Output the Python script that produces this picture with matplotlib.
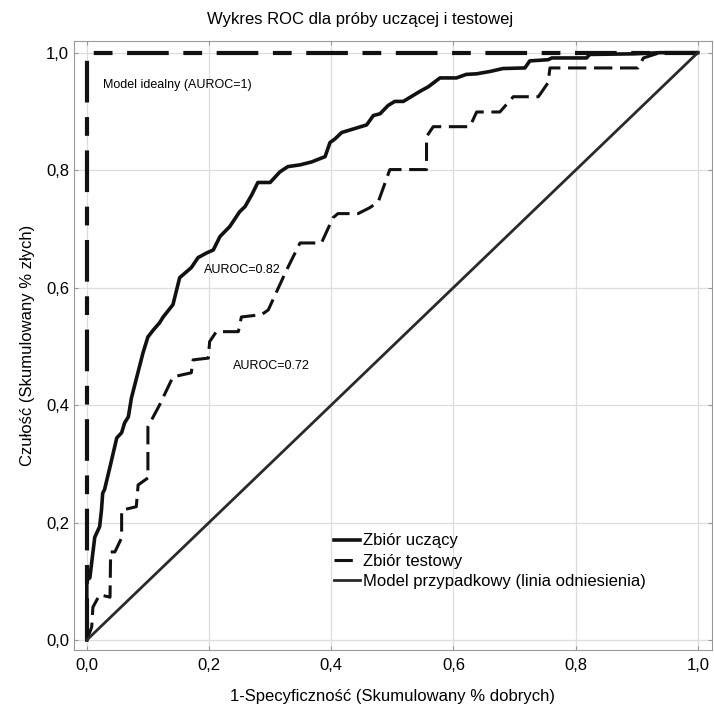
import matplotlib
matplotlib.use("Agg")
import matplotlib.pyplot as plt
from matplotlib.ticker import FuncFormatter

plt.rcParams['font.family'] = ['Liberation Sans', 'DejaVu Sans']

# ROC points
train_fpr = [0.0, 0.0, 0.005, 0.013, 0.021, 0.024, 0.026, 0.029, 0.038, 0.049, 0.057, 0.062,
             0.068, 0.073, 0.092, 0.100, 0.109, 0.119, 0.125, 0.141, 0.147, 0.152, 0.171,
             0.182, 0.196, 0.207, 0.218, 0.234, 0.250, 0.259, 0.270, 0.280, 0.300, 0.316,
             0.329, 0.349, 0.368, 0.390, 0.398, 0.406, 0.417, 0.458, 0.469, 0.480, 0.493,
             0.504, 0.518, 0.545, 0.559, 0.578, 0.605, 0.621, 0.638, 0.660, 0.681, 0.717,
             0.725, 0.755, 0.761, 0.818, 0.823, 0.894, 0.938, 1.0]
train_tpr = [0.0, 0.102, 0.106, 0.175, 0.193, 0.221, 0.250, 0.256, 0.295, 0.344, 0.353, 0.370,
             0.380, 0.412, 0.489, 0.516, 0.528, 0.540, 0.550, 0.571, 0.596, 0.617, 0.634,
             0.651, 0.659, 0.664, 0.687, 0.704, 0.729, 0.738, 0.758, 0.779, 0.779, 0.797,
             0.806, 0.809, 0.814, 0.823, 0.847, 0.853, 0.864, 0.877, 0.893, 0.896, 0.910,
             0.917, 0.917, 0.934, 0.942, 0.957, 0.957, 0.963, 0.964, 0.968, 0.973, 0.974,
             0.986, 0.988, 0.991, 0.991, 0.997, 0.998, 1.0, 1.0]

test_fpr = [0.0, 0.008, 0.010, 0.021, 0.038, 0.039, 0.046, 0.057, 0.057, 0.081, 0.084, 0.100,
            0.100, 0.119, 0.141, 0.171, 0.174, 0.199, 0.201, 0.212, 0.248, 0.253, 0.286,
            0.297, 0.327, 0.349, 0.384, 0.403, 0.411, 0.444, 0.463, 0.477, 0.496, 0.556,
            0.556, 0.567, 0.627, 0.638, 0.676, 0.698, 0.739, 0.755, 0.758, 0.902, 0.911,
            0.938, 1.0]
test_tpr = [0.0, 0.022, 0.056, 0.077, 0.073, 0.150, 0.150, 0.174, 0.221, 0.227, 0.264, 0.276,
            0.363, 0.400, 0.448, 0.455, 0.477, 0.480, 0.508, 0.525, 0.525, 0.550, 0.554,
            0.562, 0.630, 0.676, 0.676, 0.719, 0.726, 0.726, 0.736, 0.746, 0.801, 0.801,
            0.857, 0.874, 0.874, 0.899, 0.899, 0.925, 0.925, 0.949, 0.974, 0.974, 0.991,
            1.0, 1.0]

ideal_x = [0, 0, 1]
ideal_y = [0, 1, 1]
random_x = [0, 1]
random_y = [0, 1]

ticks = [0.0, 0.2, 0.4, 0.6, 0.8, 1.0]

fig = plt.figure(figsize=(7.14, 7.08), dpi=100)
ax = fig.add_axes([0.1036, 0.0819, 0.8934, 0.8603])

ax.plot(ideal_x, ideal_y, color='#111111', lw=3, dashes=(10, 3.5, 4.5, 3.5))
ax.plot(train_fpr, train_tpr, color='#111111', lw=2.6, label='Zbiór uczący')
ax.plot(test_fpr, test_tpr, color='#111111', lw=2.2, dashes=(6, 2.5), label='Zbiór testowy')
ax.plot(random_x, random_y, color='#2a2a2a', lw=2, label='Model przypadkowy (linia odniesienia)')

ax.text(0.026, 0.945, 'Model idealny (AUROC=1)', fontsize=9, va='center', ha='left')
ax.text(0.191, 0.630, 'AUROC=0.82', fontsize=9, va='center', ha='left')
ax.text(0.239, 0.467, 'AUROC=0.72', fontsize=9, va='center', ha='left')

ax.set_xlim(-0.021, 1.023)
ax.set_ylim(-0.017, 1.020)
ax.set_xticks(ticks)
ax.set_yticks(ticks)
fmt = FuncFormatter(lambda v, p: ('%.1f' % v).replace('.', ','))
ax.xaxis.set_major_formatter(fmt)
ax.yaxis.set_major_formatter(fmt)
ax.tick_params(axis='both', labelsize=12, direction='in', length=3, color='#999999',
               top=True, right=True)
ax.tick_params(axis='x', pad=6)
ax.grid(True, color='#dddddd', lw=0.9)
for s in ax.spines.values():
    s.set_color('#999999')

ax.set_xlabel('1-Specyficzność (Skumulowany % dobrych)', fontsize=12, labelpad=11)
ax.set_ylabel('Czułość (Skumulowany % złych)', fontsize=12, labelpad=8)
fig.text(0.504, 0.973, 'Wykres ROC dla próby uczącej i testowej', fontsize=12, ha='center', va='center')

ax.legend(loc='upper left', bbox_to_anchor=(0.395, 0.205), frameon=False, fontsize=12,
          handlelength=1.55, handletextpad=0.2, labelspacing=0.32, borderpad=0)

fig.savefig('out.png', dpi=100)
